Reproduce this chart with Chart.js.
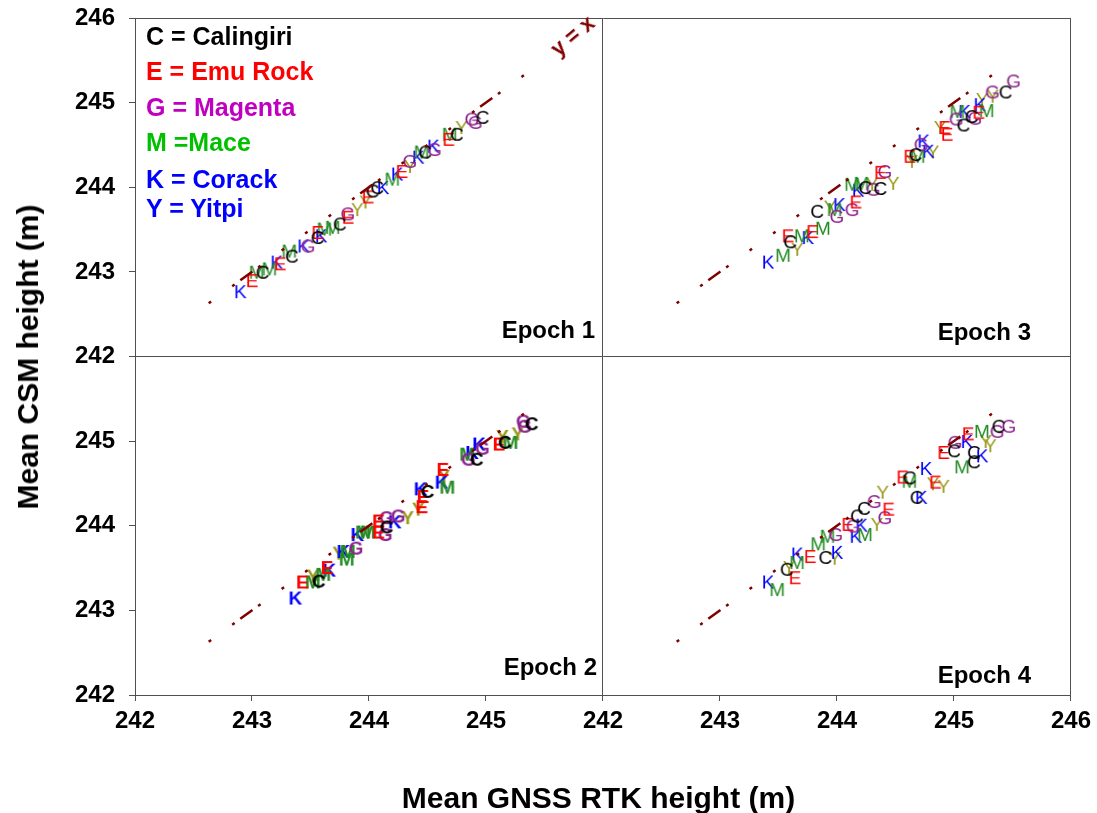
<!DOCTYPE html>
<html>
<head>
<meta charset="utf-8">
<script src="https://cdn.jsdelivr.net/npm/chart.js@4.4.1/dist/chart.umd.min.js"></script>
<style>
  body { margin: 0; background: #fff; }
  #wrap { position: relative; width: 1097px; height: 813px; font-family: "Liberation Sans", Arial, sans-serif; }
  #chart { position: absolute; left: 0; top: 0; }
  .t { position: absolute; font-weight: bold; white-space: nowrap; line-height: 1; }
</style>
</head>
<body>
<div id="wrap">
  <canvas id="chart" width="1097" height="813"></canvas>

  <div class="t" style="left:146px;top:24px;font-size:25px;color:#000">C = Calingiri</div>
  <div class="t" style="left:146px;top:59px;font-size:25px;color:#ff0000">E = Emu Rock</div>
  <div class="t" style="left:146px;top:95px;font-size:25px;color:#c000c0">G = Magenta</div>
  <div class="t" style="left:146px;top:130px;font-size:25px;color:#00c000">M =Mace</div>
  <div class="t" style="left:146px;top:167px;font-size:25px;color:#0000ff">K = Corack</div>
  <div class="t" style="left:146px;top:196px;font-size:25px;color:#0000ff">Y = Yitpi</div>

  <div class="t" style="right:502px;top:318px;font-size:24px">Epoch 1</div>
  <div class="t" style="right:66px;top:320px;font-size:24px">Epoch 3</div>
  <div class="t" style="right:500px;top:655px;font-size:24px">Epoch 2</div>
  <div class="t" style="right:66px;top:663px;font-size:24px">Epoch 4</div>

  <div class="t" style="left:548px;top:25px;font-size:22px;color:#800000;transform:rotate(-40deg)">y = x</div>

  <div class="t" style="left:0;width:1197px;top:783px;font-size:30px;text-align:center">Mean GNSS RTK height (m)</div>
  <div class="t" style="left:28px;top:357px;font-size:30px;transform:translate(-50%,-50%) rotate(-90deg)">Mean CSM height (m)</div>
</div>

<script>
// letter codes for each site
const categories = ['C', 'E', 'G', 'M', 'K', 'Y'];
const letterColors = { C: '#000000', E: '#ff0000', G: '#8e248e', M: '#228b22', K: '#0000ff', Y: '#99991a' };

// Epoch 1
const e1Letters = 'KEMCMKEMCKGCEKMMCGEYYECCKMKEYGKMCKGEMCYGGC';
const e1X = [242.90,243.00,243.04,243.09,243.15,243.21,243.24,243.32,243.34,243.44,243.48,243.56,243.56,243.59,243.62,243.69,243.75,243.82,243.82,243.90,243.97,243.99,244.03,244.07,244.12,244.20,244.24,244.28,244.35,244.35,244.42,244.45,244.48,244.55,244.56,244.68,244.69,244.75,244.79,244.88,244.91,244.97];
const e1Y = [242.76,242.89,242.99,242.99,243.03,243.11,243.09,243.24,243.18,243.30,243.30,243.40,243.46,243.42,243.50,243.52,243.56,243.68,243.64,243.73,243.82,243.88,243.95,243.99,243.99,244.09,244.15,244.18,244.24,244.30,244.35,244.41,244.41,244.48,244.44,244.56,244.62,244.62,244.70,244.80,244.76,244.82];

// Epoch 2
const e2Letters = 'KEMYCMEKYKMMGKMMEECGGKGYYEEKCEYKMGCMKGKEYCMYGGC';
const e2X = [243.37,243.43,243.52,243.52,243.57,243.61,243.64,243.66,243.74,243.78,243.81,243.82,243.89,243.90,243.95,243.99,244.08,244.08,244.15,244.14,244.15,244.22,244.25,244.33,244.42,244.45,244.46,244.44,244.50,244.63,244.64,244.62,244.67,244.85,244.92,244.84,244.88,244.97,244.94,245.11,245.14,245.16,245.21,245.27,245.32,245.33,245.39];
const e2Y = [243.14,243.33,243.33,243.40,243.34,243.42,243.50,243.47,243.67,243.69,243.60,243.69,243.73,243.89,243.92,243.92,244.05,243.92,243.98,243.89,244.09,244.04,244.11,244.09,244.19,244.22,244.34,244.43,244.40,244.66,244.58,244.51,244.45,244.78,244.78,244.84,244.86,244.91,244.96,244.96,245.05,244.98,244.98,245.08,245.23,245.17,245.20];

// Epoch 3
const e3Letters = 'KMYCEMKEMCYMKGGEKMMCYGCEGYEYCMGKKYYEEGCMKCGEMKYGYCG';
const e3X = [243.41,243.54,243.66,243.60,243.58,243.70,243.75,243.79,243.88,243.83,243.94,243.98,244.02,244.00,244.13,244.16,244.18,244.13,244.21,244.24,244.30,244.31,244.37,244.37,244.41,244.48,244.62,244.64,244.67,244.69,244.72,244.74,244.78,244.82,244.88,244.92,244.94,245.02,245.08,245.03,245.09,245.15,245.18,245.21,245.28,245.22,245.24,245.33,245.33,245.44,245.51];
const e3Y = [243.11,243.19,243.26,243.35,243.42,243.42,243.40,243.47,243.51,243.71,243.76,243.73,243.79,243.65,243.73,243.82,243.96,244.03,244.04,243.99,244.03,243.97,243.98,244.17,244.18,244.04,244.36,244.30,244.38,244.36,244.50,244.54,244.42,244.41,244.70,244.70,244.62,244.80,244.73,244.89,244.89,244.83,244.81,244.88,244.90,244.97,245.03,245.12,245.07,245.12,245.25];

// Epoch 4
const e4Letters = 'KMCYEMKECYKMMGEGCCKKMYGEGYECMCKKYEYECGKEMCCKYYMGCG';
const e4X = [243.41,243.49,243.57,243.59,243.64,243.66,243.66,243.77,243.90,243.98,244.00,243.84,243.92,243.99,244.09,244.14,244.17,244.23,244.21,244.16,244.24,244.34,244.41,244.44,244.32,244.39,244.56,244.62,244.62,244.68,244.72,244.76,244.82,244.84,244.91,244.91,245.00,245.01,245.11,245.12,245.07,245.17,245.17,245.24,245.27,245.31,245.24,245.37,245.38,245.47];
const e4Y = [243.33,243.24,243.48,243.50,243.38,243.56,243.66,243.63,243.62,243.61,243.68,243.78,243.87,243.89,244.01,243.99,244.11,244.20,244.00,243.87,243.89,244.01,244.09,244.19,244.28,244.39,244.57,244.56,244.52,244.33,244.33,244.67,244.49,244.51,244.46,244.86,244.88,244.98,244.99,245.08,244.69,244.86,244.75,244.82,244.99,244.94,245.11,245.11,245.17,245.17];

// 1:1 line ends and axis range
const oneToOne = [242.63, 245.5];
const axisTicks = [242, 243, 244, 245, 246];

const FONT = '"Liberation Sans", Arial, sans-serif';
const frame = '#505050';

// small canvas with the letter, used as point style
function letterImage(ch, bold) {
    const c = document.createElement('canvas');
    c.width = 28;
    c.height = 28;
    const g = c.getContext('2d');
    g.font = (bold ? 'bold ' : '') + '19px ' + FONT;
    g.fillStyle = letterColors[ch];
    g.textAlign = 'center';
    g.textBaseline = 'middle';
    g.fillText(ch, 14, 15);
    return c;
}

function panelSets(letters, xs, ys, xID, yID, bold) {
    const sets = [{
        data: oneToOne.map(v => ({ x: v, y: v })),
        xAxisID: xID,
        yAxisID: yID,
        showLine: true,
        borderColor: '#800000',
        borderWidth: 2.5,
        borderCapStyle: 'butt',
        borderDash: [15, 7, 3, 26, 3, 26, 3, 26, 3, 26, 3, 7],
        borderDashOffset: 109,
        pointRadius: 0
    }];
    categories.forEach(c => {
        const pts = [];
        for (let i = 0; i < xs.length; i++) {
            if (letters[i] === c) pts.push({ x: xs[i], y: ys[i] });
        }
        sets.push({
            label: c,
            data: pts,
            xAxisID: xID,
            yAxisID: yID,
            pointStyle: letterImage(c, bold),
            pointRadius: 8
        });
    });
    return sets;
}

function edgeGrid(vals) {
    return ctx => (ctx.tick && vals.includes(ctx.tick.value)) ? frame : 'rgba(0,0,0,0)';
}

const tickFont = { family: FONT, size: 24, weight: 'bold' };

function xAxis(weight, hide, edges) {
    return {
        type: 'linear', position: 'bottom', stack: 'xs', stackWeight: 1, weight: weight,
        min: axisTicks[0], max: axisTicks[axisTicks.length - 1],
        afterBuildTicks: s => { s.ticks = axisTicks.map(v => ({ value: v })); },
        ticks: { color: '#000', font: tickFont, padding: 6, maxRotation: 0, autoSkip: false,
                 callback: v => (v === hide ? '' : String(v)) },
        grid: { color: edgeGrid(edges), tickColor: frame, tickLength: 6, lineWidth: 1 },
        border: { color: frame, width: 1 },
        afterFit: s => { s.height = 45; }
    };
}

// labels are pushed to the far side of a fixed-width axis, so no tick padding is needed
function yAxis(weight, hide, edges) {
    return {
        type: 'linear', position: 'left', stack: 'ys', stackWeight: 1, weight: weight,
        min: axisTicks[0], max: axisTicks[axisTicks.length - 1],
        afterBuildTicks: s => { s.ticks = axisTicks.map(v => ({ value: v })); },
        ticks: { color: '#000', font: tickFont, padding: 0, crossAlign: 'far', autoSkip: false,
                 callback: v => (v === hide ? '' : String(v)) },
        grid: { color: edgeGrid(edges), tickColor: frame, tickLength: 6, lineWidth: 1 },
        border: { color: frame, width: 1 },
        afterFit: s => { s.width = 60; }
    };
}

const datasets = [].concat(
    panelSets(e1Letters, e1X, e1Y, 'xL', 'yT', false),
    panelSets(e3Letters, e3X, e3Y, 'xR', 'yT', false),
    panelSets(e2Letters, e2X, e2Y, 'xL', 'yB', true),
    panelSets(e4Letters, e4X, e4Y, 'xR', 'yB', false)
);

new Chart(document.getElementById('chart').getContext('2d'), {
    type: 'scatter',
    data: { datasets: datasets },
    options: {
        responsive: false,
        animation: false,
        events: [],
        layout: { padding: { left: 75, top: 18, right: 26, bottom: 73 } },
        plugins: { legend: { display: false }, tooltip: { enabled: false } },
        scales: {
            xL: xAxis(0, 246, [246]),
            xR: xAxis(1, null, [246]),
            yT: yAxis(1, null, [246, 242]),
            yB: yAxis(0, 246, [])
        }
    }
});
</script>
</body>
</html>
